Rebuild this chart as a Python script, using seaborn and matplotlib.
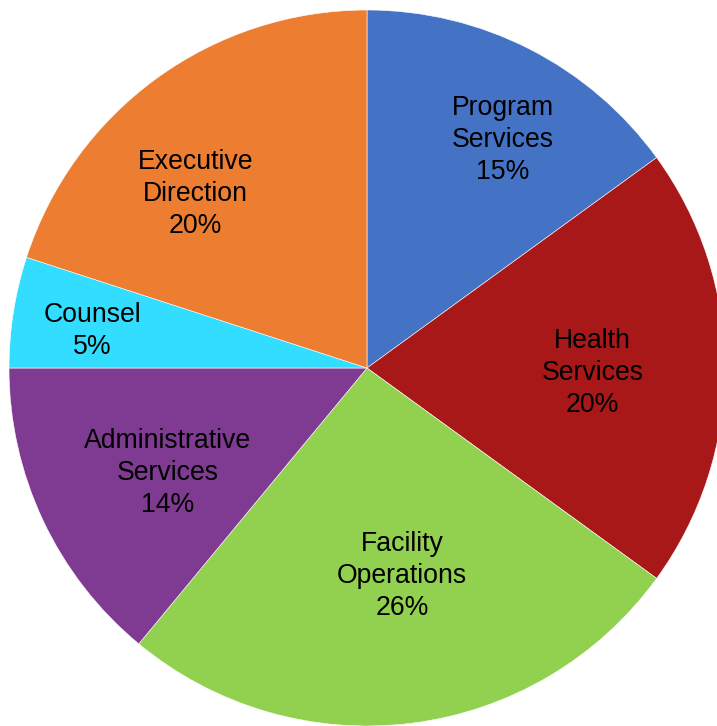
import matplotlib
matplotlib.use("Agg")
import matplotlib.pyplot as plt
import seaborn as sns
import numpy as np

# data
categories = ["Program\nServices", "Health\nServices", "Facility\nOperations",
              "Administrative\nServices", "Counsel", "Executive\nDirection"]
shares = [15, 20, 26, 14, 5, 20]
colors = ["#4472C4", "#A81818", "#92D050", "#7F3A92", "#33DDFF", "#ED7D31"]

# label placement (fraction of radius, angle nudge in degrees)
label_r = [0.75, 0.63, 0.58, 0.625, 0.775, 0.69]
label_nudge = [-3.3, -0.5, 2.5, 1.9, 0.7, 7.9]

sns.set_theme(style="white")
plt.rcParams["font.family"] = ["Liberation Sans", "DejaVu Sans"]

fig = plt.figure(figsize=(7.17, 7.26), dpi=100)
ax = fig.add_axes([0, 0, 1, 1])
wedges, _ = ax.pie(shares, colors=sns.color_palette(colors), startangle=90,
                   counterclock=False, radius=1.0,
                   wedgeprops=dict(linewidth=0.4, edgecolor="white"))

R = 358.0  # radius in pixels
for w, lab, v, r, nd in zip(wedges, categories, shares, label_r, label_nudge):
    mid = np.deg2rad((w.theta1 + w.theta2) / 2 + nd)
    ax.text(r * np.cos(mid), r * np.sin(mid) - 3.5 / R, f"{lab}\n{v}%",
            ha="center", va="center", fontsize=19.2, linespacing=1.3,
            color="black")

# center at pixel (367, 368)
ax.set_xlim(-367 / R, (717 - 367) / R)
ax.set_ylim(-(726 - 368) / R, 368 / R)
ax.set_aspect("auto")
ax.axis("off")

fig.savefig("out.png", dpi=100, facecolor="white")
